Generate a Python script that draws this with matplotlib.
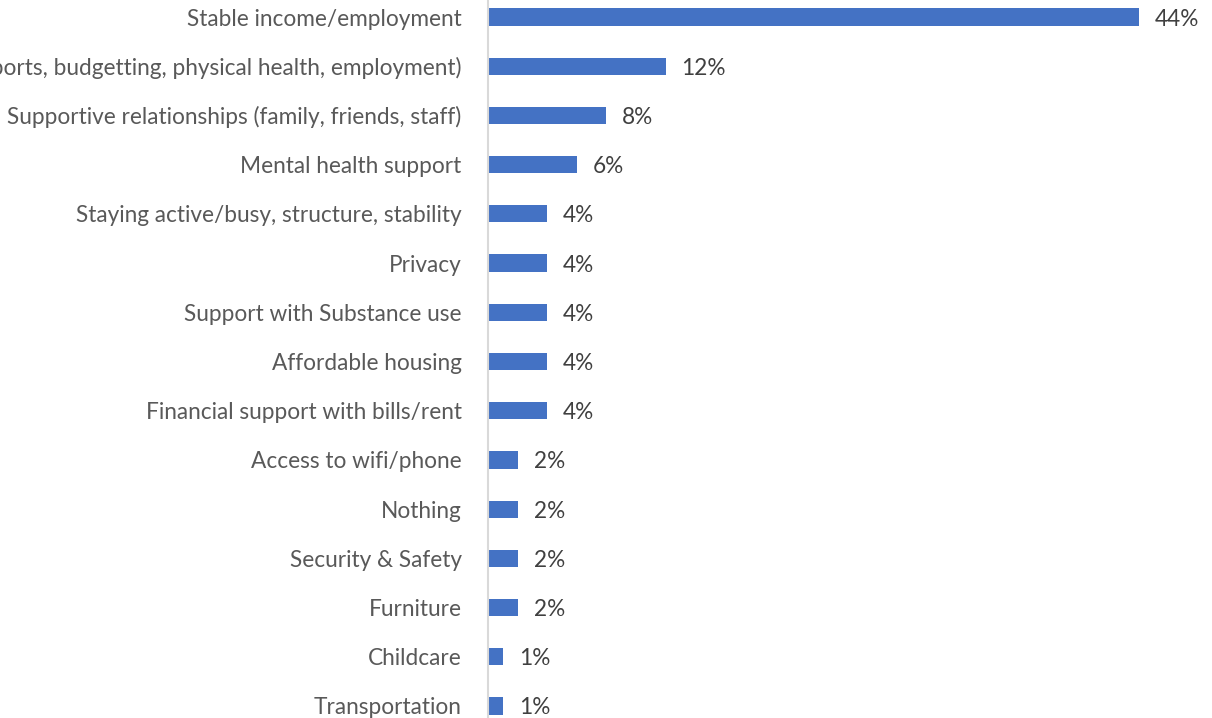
import matplotlib.pyplot as plt

categories = [
    "Stable income/employment",
    "Life skills (supports, budgetting, physical health, employment)",
    "Supportive relationships (family, friends, staff)",
    "Mental health support",
    "Staying active/busy, structure, stability",
    "Privacy",
    "Support with Substance use",
    "Affordable housing",
    "Financial support with bills/rent",
    "Access to wifi/phone",
    "Nothing",
    "Security & Safety",
    "Furniture",
    "Childcare",
    "Transportation",
]
values = [44, 12, 8, 6, 4, 4, 4, 4, 4, 2, 2, 2, 2, 1, 1]
value_labels = ["44%", "12%", "8%", "6%", "4%", "4%", "4%", "4%", "4%",
                "2%", "2%", "2%", "2%", "1%", "1%"]

plt.rcParams['font.family'] = ['Lato', 'DejaVu Sans']

W, H = 1212, 718
fig = plt.figure(figsize=(W / 100, H / 100), dpi=100)
ax_left = 488 / W
top_px = 17 - 24.6
bot_px = 706 + 24.6
ax = fig.add_axes([ax_left, 1 - bot_px / H, 1 - ax_left, (bot_px - top_px) / H])

y = list(range(len(categories)))
ax.barh(y, values, height=0.35, color="#4472C4")
ax.set_ylim(len(categories) - 0.5, -0.5)
ax.set_xlim(0, (W - 488) / 14.8)

ax.set_yticks(y)
ax.set_yticklabels(categories, fontsize=16.3, color="#595959")
ax.tick_params(axis='y', length=0, pad=19)
ax.set_xticks([])

for s in ['top', 'right', 'bottom']:
    ax.spines[s].set_visible(False)
ax.spines['left'].set_color("#d9d9d9")
ax.spines['left'].set_linewidth(1.5)

for yi, v, lab in zip(y, values, value_labels):
    ax.annotate(lab, (v, yi), xytext=(11.5, 0), textcoords='offset points',
                va='center_baseline', ha='left', fontsize=16.3, color="#404040")

fig.savefig("out.png", dpi=100)
